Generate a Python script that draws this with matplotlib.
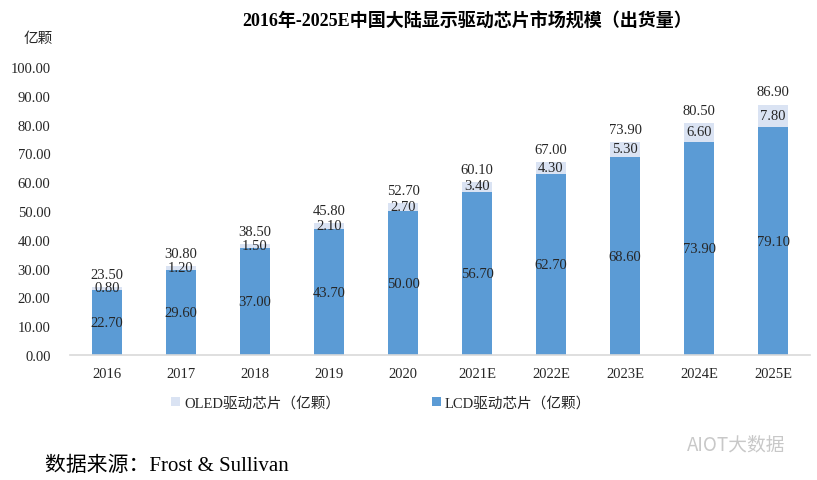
import numpy as np
import matplotlib.pyplot as plt

plt.rcParams['font.family'] = ['Liberation Serif', 'Noto Sans CJK SC']

# 数据
years = ['2016', '2017', '2018', '2019', '2020', '2021E', '2022E', '2023E', '2024E', '2025E']
lcd = [22.70, 29.60, 37.00, 43.70, 50.00, 56.70, 62.70, 68.60, 73.90, 79.10]
oled = [0.80, 1.20, 1.50, 2.10, 2.70, 3.40, 4.30, 5.30, 6.60, 7.80]
total = [23.50, 30.80, 38.50, 45.80, 52.70, 60.10, 67.00, 73.90, 80.50, 86.90]

lcd_color = '#5B9BD5'
oled_color = '#DAE3F3'
txt_color = '#262626'

fig = plt.figure(figsize=(8.17, 4.81), dpi=100)
ax = fig.add_axes([70 / 817, 1 - 356 / 481, 740 / 817, 288 / 481])

x = np.arange(len(years))
w = 0.41
b1 = ax.bar(x, lcd, w, color=lcd_color, label='LCD驱动芯片（亿颗）')
b2 = ax.bar(x, oled, w, bottom=lcd, color=oled_color, label='OLED驱动芯片（亿颗）')

for i in range(len(years)):
    ax.text(x[i], lcd[i] / 2, f'{lcd[i]:.2f}', ha='center', va='center', fontsize=10.5, color=txt_color)
    ax.text(x[i], lcd[i] + oled[i] / 2 + 0.3, f'{oled[i]:.2f}', ha='center', va='center', fontsize=10.5, color=txt_color)
    ax.text(x[i], total[i] + 2.2, f'{total[i]:.2f}', ha='center', va='bottom', fontsize=10.5, color=txt_color)

ax.set_xlim(-0.5, len(years) - 0.5)
ax.set_ylim(0, 100)
ax.set_yticks(np.arange(0, 101, 10))
ax.set_yticklabels([f'{v:.2f}' for v in np.arange(0, 101, 10)])
ax.set_xticks(x)
ax.set_xticklabels(years)
ax.tick_params(axis='both', length=0, labelsize=10.5, colors=txt_color)
ax.tick_params(axis='y', pad=14)
ax.tick_params(axis='x', pad=9)
for s in ['top', 'right', 'left']:
    ax.spines[s].set_visible(False)
ax.spines['bottom'].set_color('#D9D9D9')
ax.spines['bottom'].set_linewidth(1.2)

# 标题和单位
fig.text(467 / 817, 1 - 22 / 481, '2016年-2025E中国大陆显示驱动芯片市场规模（出货量）',
         ha='center', va='center', fontsize=13, fontweight='bold', color='#000000')
fig.text(38 / 817, 1 - 39 / 481, '亿颗', ha='center', va='center', fontsize=10.5, color=txt_color)

# 图例
handles = [b2, b1]
labels = ['OLED驱动芯片（亿颗）', 'LCD驱动芯片（亿颗）']
fig.legend(handles, labels, loc='center', bbox_to_anchor=(381 / 817, 1 - 404 / 481), ncol=2,
           frameon=False, fontsize=10.5, handlelength=0.6, handleheight=0.6, handletextpad=0.3,
           columnspacing=6.3, labelcolor=txt_color)

# 来源
fig.text(45 / 817, 1 - 466 / 481, '数据来源：Frost & Sullivan', ha='left', va='center',
         fontsize=15, color='#000000')
fig.text(687 / 817, 1 - 445 / 481, 'AIOT大数据', ha='left', va='center',
         fontsize=13.5, color='#C8C8C8', family=['Noto Sans CJK SC'])

fig.savefig('out.png', dpi=100)
